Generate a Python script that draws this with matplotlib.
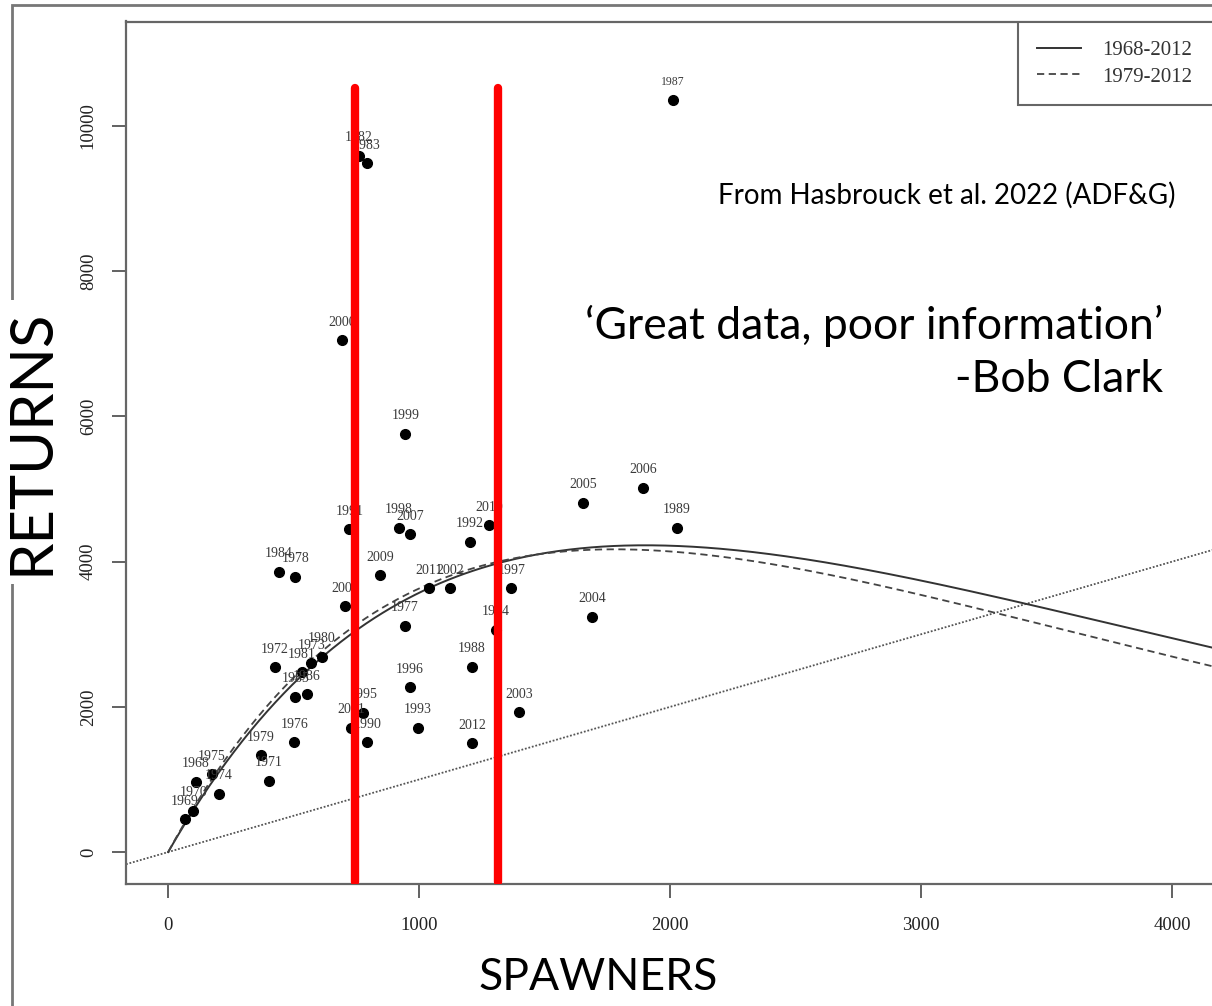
import numpy as np
import matplotlib.pyplot as plt
from matplotlib.patches import Rectangle

# brood years, spawners and returns
years = [1968, 1969, 1970, 1971, 1972, 1973, 1974, 1975, 1976, 1977,
         1978, 1979, 1980, 1981, 1982, 1983, 1984, 1985, 1986, 1987,
         1988, 1989, 1990, 1991, 1992, 1993, 1994, 1995, 1996, 1997,
         1998, 1999, 2000, 2001, 2002, 2003, 2004, 2005, 2006, 2007,
         2008, 2009, 2010, 2011, 2012]
spawners = [110, 66, 100, 402, 425, 570, 203, 175, 502, 944,
            506, 369, 612, 532, 761, 792, 442, 506, 552, 2012,
            1210, 2027, 793, 722, 1203, 994, 1305, 777, 962, 1367,
            920, 945, 692, 728, 1124, 1398, 1689, 1652, 1893, 964,
            705, 845, 1279, 1039, 1210]
returns = [967, 449, 565, 985, 2548, 2603, 799, 1074, 1515, 3113,
           3788, 1336, 2686, 2479, 9587, 9486, 3857, 2135, 2176, 10358,
           2552, 4467, 1515, 4445, 4274, 1708, 3058, 1915, 2268, 3636,
           4463, 5758, 7052, 1708, 3636, 1928, 3241, 4812, 5014, 4380,
           3388, 3815, 4504, 3636, 1501]

# Ricker fits (R = alpha * S * exp(-beta * S))
fit_labels = ['1968-2012', '1979-2012']
fit_alpha = [6.045, 6.368]
fit_beta = [1 / 1900, 1 / 1780]
fit_styles = ['-', '--']

# spawner goal range marked in red
goal_x = [745, 1315]
goal_y = [-413, 10523]

xlim = (-168, 4368)
ylim = (-440, 11440)

fig = plt.figure(figsize=(12.12, 10.06), dpi=100)
ax = fig.add_axes([126 / 1212, 1 - 884 / 1006, 1138.5 / 1212, 862.5 / 1006])
ax.set_xlim(*xlim)
ax.set_ylim(*ylim)

# outer frame of the scanned figure
fig.patches.append(Rectangle((12 / 1212, -0.1), 1.2, 1.1 - 5 / 1006,
                             transform=fig.transFigure, fill=False,
                             edgecolor='#777777', linewidth=2, zorder=0))

serif = 'Liberation Serif'

# 1:1 replacement line
xs = np.linspace(xlim[0], xlim[1], 200)
ax.plot(xs, xs, linestyle=(0, (1, 1)), color='#555555', linewidth=1.3, zorder=2)

# Ricker curves
s = np.linspace(0, xlim[1], 400)
for lab, a, b, ls in zip(fit_labels, fit_alpha, fit_beta, fit_styles):
    if ls == '--':
        ax.plot(s, a * s * np.exp(-b * s), linestyle=(0, (4, 2.5)), color='#444444',
                linewidth=1.3, label=lab, zorder=3)
    else:
        ax.plot(s, a * s * np.exp(-b * s), linestyle='-', color='#333333',
                linewidth=1.4, label=lab, zorder=3)

ax.plot(spawners, returns, 'o', color='black', markersize=7, zorder=4)
for yr, sx, ry in zip(years, spawners, returns):
    fs = 8.5 if yr == 1987 else 10
    ax.annotate(str(yr), (sx, ry), xytext=(0, 13), textcoords='offset points',
                ha='center', va='center', fontsize=fs, family=serif,
                color='#3a3a3a', zorder=5)

for gx in goal_x:
    ax.plot([gx, gx], goal_y, color='#ff0000', linewidth=6,
            solid_capstyle='round', zorder=6)

# legend box runs off the right edge, as in the scan
leg_x0 = (1018 - 126) / 1138.5
leg_y0 = (884 - 105) / 862.5
ax.add_patch(Rectangle((leg_x0, leg_y0), 1.0 - leg_x0, 1.0 - leg_y0,
                       transform=ax.transAxes, facecolor='white',
                       edgecolor='#666666', linewidth=1.5, zorder=7))
leg = ax.legend(loc='upper left', bbox_to_anchor=(leg_x0, 1.0),
                borderaxespad=0, frameon=False,
                prop={'family': serif, 'size': 15}, handlelength=2.1,
                handletextpad=1.05, borderpad=0.9, labelspacing=0.35)
leg.set_zorder(8)
for t in leg.get_texts():
    t.set_color('#333333')

for sp in ax.spines.values():
    sp.set_color('#666666')
    sp.set_linewidth(1.6)

ax.set_xticks([0, 1000, 2000, 3000, 4000])
ax.set_yticks([0, 2000, 4000, 6000, 8000, 10000])
ax.tick_params(axis='both', direction='out', length=10, width=1.3, colors='#555555',
               labelcolor='#222222')
ax.tick_params(axis='x', pad=14)
ax.tick_params(axis='y', pad=11)
for t in ax.get_xticklabels():
    t.set_family(serif)
    t.set_fontsize(13.5)
for t in ax.get_yticklabels():
    t.set_family(serif)
    t.set_fontsize(13.5)
    t.set_rotation(90)
    t.set_va('center')

sans = 'Lato'
fig.text(32 / 1212, 1 - 442 / 1006, 'RETURNS', rotation=90, ha='center', va='center',
         fontsize=43, family=sans, color='black',
         bbox=dict(facecolor='white', edgecolor='none', pad=6))
fig.text(598 / 1212, 1 - 978 / 1006, 'SPAWNERS', ha='center', va='center',
         fontsize=32, family=sans, color='black')
fig.text(1176 / 1212, 1 - 195 / 1006, 'From Hasbrouck et al. 2022 (ADF&G)',
         ha='right', va='center', fontsize=20, family=sans, color='black')
fig.text(1163 / 1212, 1 - 326 / 1006, '\u2018Great data, poor information\u2019',
         ha='right', va='center', fontsize=32, family=sans, color='black')
fig.text(1163 / 1212, 1 - 380 / 1006, '-Bob Clark',
         ha='right', va='center', fontsize=32, family=sans, color='black')

fig.savefig('out.png', dpi=100)
